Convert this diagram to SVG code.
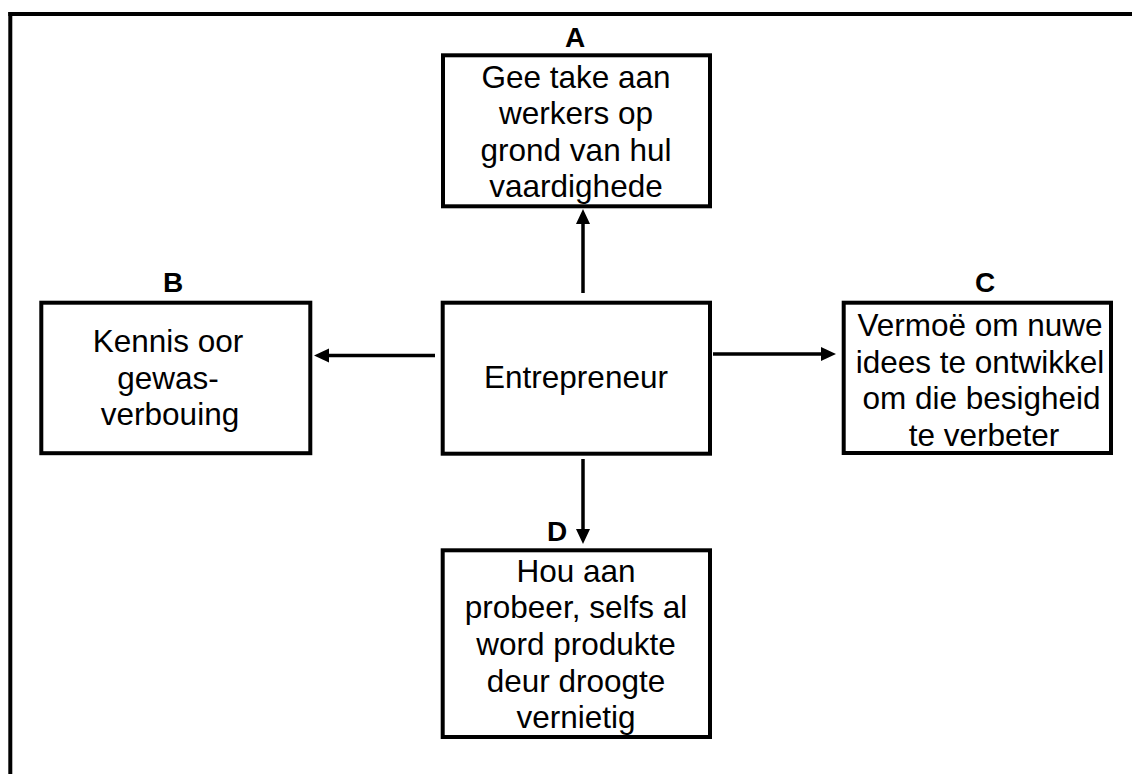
<svg xmlns="http://www.w3.org/2000/svg" width="1132" height="774" viewBox="0 0 1132 774">
<style>
.box{fill:#fff;stroke:#000;stroke-width:4}
.t{font-family:"Liberation Sans",Arial,sans-serif;font-size:31.5px;text-anchor:middle;fill:#000}
.lbl{font-family:"Liberation Sans",Arial,sans-serif;font-size:28px;font-weight:bold;text-anchor:middle;fill:#000}
.con{stroke:#000;stroke-width:3.5;fill:none}
.frame{stroke:#000;stroke-width:4;fill:none}
</style>
<defs>
<marker id="ah" markerUnits="userSpaceOnUse" markerWidth="16" markerHeight="16" refX="0" refY="7" orient="auto" overflow="visible">
<path d="M0,0 L15,7 L0,14 Z" fill="#000"/>
</marker>
</defs>
<rect width="1132" height="774" fill="#fff"/>
<g id="frame">
<line class="frame" x1="8.3" y1="14" x2="1132" y2="14"/>
<line class="frame" x1="10.3" y1="12" x2="10.3" y2="774"/>
</g>
<g id="connectors">
<line class="con" x1="583" y1="293" x2="583" y2="224" marker-end="url(#ah)"/>
<line class="con" x1="435" y1="355.5" x2="329" y2="355.5" marker-end="url(#ah)"/>
<line class="con" x1="713" y1="354" x2="821" y2="354" marker-end="url(#ah)"/>
<line class="con" x1="583" y1="459" x2="583" y2="529" marker-end="url(#ah)"/>
</g>
<g id="nodeA">
<rect class="box" x="443" y="55.3" width="267" height="151"/>
<text class="lbl" x="575" y="46.5">A</text>
<text class="t" x="576" y="87.5">Gee take aan</text>
<text class="t" x="576" y="124">werkers op</text>
<text class="t" x="576" y="160.5">grond van hul</text>
<text class="t" x="576" y="197">vaardighede</text>
</g>
<g id="nodeB">
<rect class="box" x="41.3" y="302.7" width="269" height="150.5"/>
<text class="lbl" x="173" y="291.5">B</text>
<text class="t" x="168" y="352.3">Kennis oor</text>
<text class="t" x="168" y="388.8">gewas-</text>
<text class="t" x="170" y="425.3">verbouing</text>
</g>
<g id="nodeE">
<rect class="box" x="442.7" y="302.7" width="267.3" height="151"/>
<text class="t" x="576" y="388.3">Entrepreneur</text>
</g>
<g id="nodeC">
<rect class="box" x="843.7" y="302.7" width="267.3" height="150.3"/>
<text class="lbl" x="985" y="291.5">C</text>
<text class="t" x="980" y="336">Vermoë om nuwe</text>
<text class="t" x="980" y="372.5">idees te ontwikkel</text>
<text class="t" x="981.5" y="409">om die besigheid</text>
<text class="t" x="984" y="445.5">te verbeter</text>
</g>
<g id="nodeD">
<rect class="box" x="442.7" y="550.3" width="267.3" height="186.7"/>
<text class="lbl" x="557" y="541">D</text>
<text class="t" x="576" y="581.6">Hou aan</text>
<text class="t" x="576" y="618.3">probeer, selfs al</text>
<text class="t" x="576" y="655">word produkte</text>
<text class="t" x="576" y="691.7">deur droogte</text>
<text class="t" x="576" y="728.3">vernietig</text>
</g>
</svg>
